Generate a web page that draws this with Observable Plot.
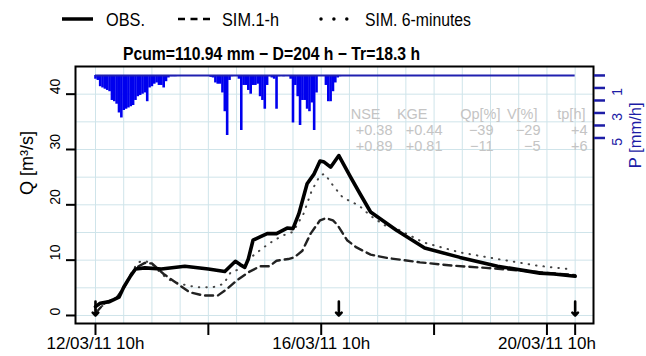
<!DOCTYPE html>
<html><head><meta charset="utf-8">
<script src="https://cdn.jsdelivr.net/npm/d3@7"></script>
<script src="https://cdn.jsdelivr.net/npm/@observablehq/plot@0.6"></script>
<style>
html,body{margin:0;padding:0;background:#fff;}
#chart{width:646px;height:356px;}
</style></head><body><div id="chart"></div>
<script>
// ---- data (hours since 12/03/11 10h) ----
const titleText = "Pcum=110.94 mm \u2212 D=204 h \u2212 Tr=18.3 h";
const durationH = 204;
const legendLabels = ["OBS.", "SIM.1-h", "SIM. 6-minutes"];

const obsHours = [0,2,6,10,12,15,17,21,28,38,48,55,59.5,61.5,63.5,65,67,70,73,77,81.5,84,86.5,90,93,95.5,97,100,103.5,108.5,112.5,117,128,140,155,171,189,195,204];
const obsQ     = [1.6,2.2,2.5,3.3,5.1,7.2,8.4,8.6,8.4,8.9,8.4,7.95,9.8,9.2,8.7,10.2,13.6,14.2,14.8,14.8,15.8,15.7,18.4,23.8,25.6,27.9,27.8,26.8,28.9,25,22,18.7,15.4,12.2,10.5,8.9,7.65,7.5,7.1];

const sim1hHours = [0,4,9,12,15,18,21,24,29,35,40,46,52,56,60,65,70,74,77,82,84.5,88,91.5,95.5,98,101,103,107,111,117,124,138,152,166,181,192,204];
const sim1hQ     = [0.4,2.3,3.2,5.0,7.3,8.8,9.5,9.4,7.5,5.7,4.2,3.6,3.6,4.8,6.3,7.8,8.9,8.9,9.9,10.2,10.5,11.7,14.8,17.2,17.6,17.2,16.3,13.6,12.3,11.0,10.4,9.6,9.0,8.6,8.1,7.7,7.3];

const sim6Hours = [0,4,9,12,15,18,21,24,27,30.5,36,43,50,54.5,57.5,61.5,67,71.5,76,80,84,88.5,92,95.5,97.5,101,105,108.5,112,117,123,128,139.5,155,171,188,201,203];
const sim6Q     = [1.0,2.0,3.2,5.0,7.5,9.6,9.9,9.3,8.0,6.6,5.7,5.1,5.1,5.7,7.8,8.4,10.8,12.3,13.6,14.5,15.1,18.4,22.6,25.3,25.6,23.5,21.4,20.6,19.9,18.0,16.3,15.7,13.2,11.4,10.2,9.0,8.4,8.2];

// hourly rainfall intensity [mm/h], from hour 0
const precipMmH = [
 0.3,0.4,0.9,1.0,1.1,1.2,1.3,2.0,2.1,2.3,
 3.0,3.4,2.8,2.7,2.6,2.5,2.4,2.0,1.7,1.6,
 1.5,1.4,2.1,1.0,0.9,0.7,0.6,0.8,0.8,1.0,
 0.5,0.2,0.1,0.1,0.1,0,0,0,0,0,
 0,0,0,0,0,0,0,0,0,0.15,
 0.2,0.6,0.7,0.7,1.4,2.9,4.8,0.4,0.1,0,
 0,0.3,4.4,0.8,0.8,1.2,1.5,0.8,0.8,0.7,
 1.7,2.0,2.7,0.8,0.1,0.2,0.3,2.7,0.1,0,
 0.1,0,0,0.3,3.8,0.8,1.7,4.0,2.0,2.0,
 2.7,2.9,2.2,4.4,1.4,0,0,0,0.8,2.1,
 2.1,1.3,0.6,0.2,0.1];

const statHeaders = ["NSE","KGE","Qp[%]","V[%]","tp[h]"];
const statsSim1h  = ["+0.38","+0.44","\u221239","\u221229","+4"];
const statsSim6m  = ["+0.89","+0.81","\u221211","\u22125","+6"];

const yTicks = [0,10,20,30,40];
const xTickHours = [0,48,96,144,192,204];
const xLabelHours = [0,96,192];
const xLabels = ["12/03/11 10h","16/03/11 10h","20/03/11 10h"];
const pTicks = [0,1,2,3,4,5];
const pTickLabels = [1,3,5];
const arrowHours = [0,103.5,204];
const gridHours = d3.range(0, 205, 12);
const gridQ = d3.range(0, 46, 5);

// ---- helpers ----
const Ptop = 43.38, pK = 2.26;           // rainfall axis hung from top of Q scale
const toQ = p => Ptop - p * pK;
const navy = "#1c1ca6";
const font = "'Liberation Sans', Arial, sans-serif";
const zip = (h, q) => h.map((x, i) => ({h: x, q: q[i]}));
const obs = zip(obsHours, obsQ), sim1 = zip(sim1hHours, sim1hQ), sim6 = zip(sim6Hours, sim6Q);
const rain = precipMmH.map((p, i) => ({h: i, p})).filter(d => d.p > 0);

const hdrDx = [-213,-166,-93,-56,-8];
const valDx = [-201,-151,-100,-53,-6];
const statColor = "#c4c4c4";
const statMarks = statHeaders.flatMap((hd, i) => [
  Plot.text([hd], {text: d => d, frameAnchor: "top-right", dx: hdrDx[i], dy: 42, textAnchor: "end", fill: statColor, fontSize: 14.5}),
  Plot.text([statsSim1h[i]], {text: d => d, frameAnchor: "top-right", dx: valDx[i], dy: 58, textAnchor: "end", fill: statColor, fontSize: 14.5}),
  Plot.text([statsSim6m[i]], {text: d => d, frameAnchor: "top-right", dx: valDx[i], dy: 74, textAnchor: "end", fill: statColor, fontSize: 14.5})
]);

const plot = Plot.plot({
  width: 646, height: 356,
  marginTop: 66, marginBottom: 33, marginLeft: 75, marginRight: 53,
  style: {fontFamily: font, background: "white", color: "black"},
  x: {domain: [-8.5, 211.8]},
  y: {domain: [-1.45, 45.0]},
  marks: [
    Plot.gridX({ticks: gridHours, stroke: "#cfe4ea", strokeOpacity: 1, strokeWidth: 1}),
    Plot.gridY({ticks: gridQ, stroke: "#cfe4ea", strokeOpacity: 1, strokeWidth: 1}),
    Plot.ruleX(rain, {x: "h", y1: () => Ptop, y2: d => toQ(d.p), stroke: "#0000ee", strokeWidth: 2.6}),
    Plot.ruleY([Ptop], {x1: 0, x2: durationH, stroke: "#2020b0", strokeWidth: 2}),
    ...statMarks,
    Plot.line(sim6, {x: "h", y: "q", stroke: "#444", strokeWidth: 2, strokeDasharray: "0.5,7", strokeLinecap: "round"}),
    Plot.line(sim1, {x: "h", y: "q", stroke: "#222", strokeWidth: 2.4, strokeDasharray: "8,5"}),
    Plot.line(obs, {x: "h", y: "q", stroke: "black", strokeWidth: 3.6, strokeLinejoin: "round"}),
    Plot.vector(arrowHours, {x: d => d, frameAnchor: "bottom", dy: -15, length: 14, rotate: 180, anchor: "middle", stroke: "black", strokeWidth: 2.6}),
    Plot.frame({stroke: "black", strokeWidth: 2}),
    Plot.axisX({ticks: xTickHours, tickSize: 12, tickFormat: () => "", strokeWidth: 2, label: null}),
    Plot.axisY({ticks: yTicks, tickSize: 9, tickFormat: () => "", strokeWidth: 2, label: null}),
    Plot.axisY({anchor: "right", ticks: pTicks.map(toQ), tickSize: 11, tickFormat: () => "", strokeWidth: 2.5, color: navy, label: null}),
    Plot.text(xLabelHours, {x: d => d, text: (d, i) => xLabels[i], frameAnchor: "bottom", dy: 25, fontSize: 17}),
    Plot.text(yTicks, {y: d => d, text: d => String(d), frameAnchor: "left", dx: -20, rotate: -90, fontSize: 14}),
    Plot.text(pTickLabels, {y: d => toQ(d), text: d => String(d), frameAnchor: "right", dx: 24, rotate: -90, fill: navy, fontSize: 14}),
    Plot.text(["Q [m\u00b3/s]"], {text: d => d, frameAnchor: "left", dx: -48, rotate: -90, fontSize: 18}),
    Plot.text(["P [mm/h]"], {text: d => d, frameAnchor: "top-right", dx: 36, dy: 36, rotate: -90, fill: navy, fontSize: 16.5})
  ]
});
document.getElementById("chart").appendChild(plot);

// ---- legend and title (layout only) ----
const svg = d3.select(plot);
const g = svg.append("g").attr("font-family", font).attr("text-anchor", "start");
g.append("line").attr("x1", 62).attr("x2", 93).attr("y1", 19).attr("y2", 19)
  .attr("stroke", "black").attr("stroke-width", 3.5);
g.append("line").attr("x1", 178).attr("x2", 210).attr("y1", 19).attr("y2", 19)
  .attr("stroke", "black").attr("stroke-width", 2.4).attr("stroke-dasharray", "7,5.5");
g.append("line").attr("x1", 321).attr("x2", 347).attr("y1", 19).attr("y2", 19)
  .attr("stroke", "black").attr("stroke-width", 3.5).attr("stroke-linecap", "round").attr("stroke-dasharray", "0,12.9");
const legX = [106, 222, 365], legW = [39, 57, 106];
legendLabels.forEach((t, i) => {
  g.append("text").attr("x", legX[i]).attr("y", 26).attr("font-size", 17.5).attr("text-anchor", "start")
    .attr("textLength", legW[i]).attr("lengthAdjust", "spacingAndGlyphs").text(t);
});
g.append("text").attr("x", 271.5).attr("y", 60).attr("text-anchor", "middle")
  .attr("font-size", 18).attr("font-weight", "bold")
  .attr("textLength", 297).attr("lengthAdjust", "spacingAndGlyphs").text(titleText);
</script></body></html>
